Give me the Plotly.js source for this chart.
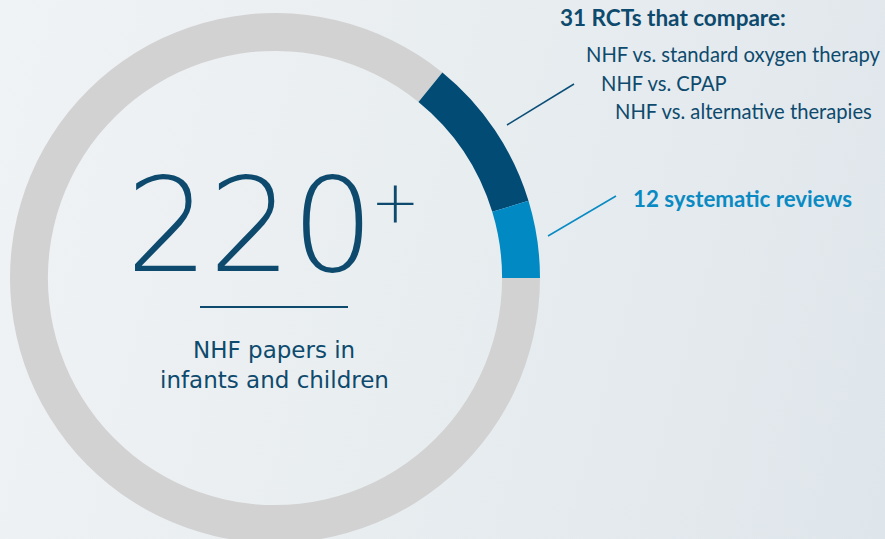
<!DOCTYPE html>
<html>
<head>
<meta charset="utf-8">
<script src="https://cdn.plot.ly/plotly-3.0.1.min.js"></script>
<style>
html,body{margin:0;padding:0;width:885px;height:539px;overflow:hidden;
background:linear-gradient(105deg,#f0f3f5 0%,#e8edf0 50%,#dfe6eb 100%);}
#chart{width:885px;height:560px;}
</style>
</head>
<body>
<div id="chart"></div>
<script>
var segLabels = ["Other NHF papers", "31 RCTs", "12 systematic reviews"];
var segValues = [219, 24, 12];
var segColors = ["#d2d2d2", "#024b74", "#0089c3"];

var totalText = "220";
var subText = ["NHF papers in", "infants and children"];
var rctTitle = "31 RCTs that compare:";
var rctItems = ["NHF vs. standard oxygen therapy", "NHF vs. CPAP", "NHF vs. alternative therapies"];
var srText = "12 systematic reviews";

var W = 885, H = 560;
var FONT = "Lato, 'Open Sans', sans-serif";
var WIDE = "'DejaVu Sans', sans-serif";
var DARK = "#0d4a6d", LIGHT = "#0a8ac3";

var trace = {
  type: "pie",
  labels: segLabels,
  values: segValues,
  marker: {colors: segColors, line: {width: 0}},
  hole: 0.857,
  sort: false,
  direction: "clockwise",
  rotation: 90,
  textinfo: "none",
  hoverinfo: "none",
  showlegend: false,
  domain: {x: [10 / W, 540 / W], y: [17 / H, 547 / H]}
};

var ann = [];
ann.push({x: 250, y: 226, text: totalText, showarrow: false, xanchor: "center", yanchor: "middle",
  font: {family: WIDE, size: 130, color: DARK, weight: 200}});
ann.push({x: 395, y: 202, text: "+", showarrow: false, xanchor: "center", yanchor: "middle",
  font: {family: WIDE, size: 58, color: DARK, weight: 200}});
ann.push({x: 274, y: 350, text: subText[0], showarrow: false, xanchor: "center", yanchor: "middle",
  font: {family: WIDE, size: 23, color: DARK}});
ann.push({x: 274, y: 380, text: subText[1], showarrow: false, xanchor: "center", yanchor: "middle",
  font: {family: WIDE, size: 23, color: DARK}});
ann.push({x: 558, y: 17, text: "<b>" + rctTitle + "</b>", showarrow: false, xanchor: "left", yanchor: "middle",
  font: {family: FONT, size: 22.5, color: DARK}});
var itemX = [584, 599, 613], itemY = [54, 83, 111];
for (var i = 0; i < rctItems.length; i++) {
  ann.push({x: itemX[i], y: itemY[i], text: rctItems[i], showarrow: false, xanchor: "left", yanchor: "middle",
    font: {family: FONT, size: 20.2, color: DARK}});
}
ann.push({x: 631, y: 198, text: "<b>" + srText + "</b>", showarrow: false, xanchor: "left", yanchor: "middle",
  font: {family: FONT, size: 22.3, color: LIGHT}});

var shapes = [
  {type: "line", xref: "x", yref: "y", x0: 200, x1: 348, y0: 307, y1: 307, line: {color: DARK, width: 2}},
  {type: "line", xref: "x", yref: "y", x0: 507, x1: 574, y0: 125, y1: 84, line: {color: "#0b4f78", width: 1.5}},
  {type: "line", xref: "x", yref: "y", x0: 548, x1: 616, y0: 236, y1: 196, line: {color: LIGHT, width: 1.5}}
];

var layout = {
  width: W, height: H,
  margin: {l: 0, r: 0, t: 0, b: 0},
  paper_bgcolor: "rgba(0,0,0,0)",
  plot_bgcolor: "rgba(0,0,0,0)",
  xaxis: {range: [0, W], visible: false, fixedrange: true, domain: [0, 1]},
  yaxis: {range: [H, 0], visible: false, fixedrange: true, domain: [0, 1]},
  annotations: ann,
  shapes: shapes,
  showlegend: false
};

Plotly.newPlot("chart", [trace], layout, {displayModeBar: false, staticPlot: true});
</script>
</body>
</html>
